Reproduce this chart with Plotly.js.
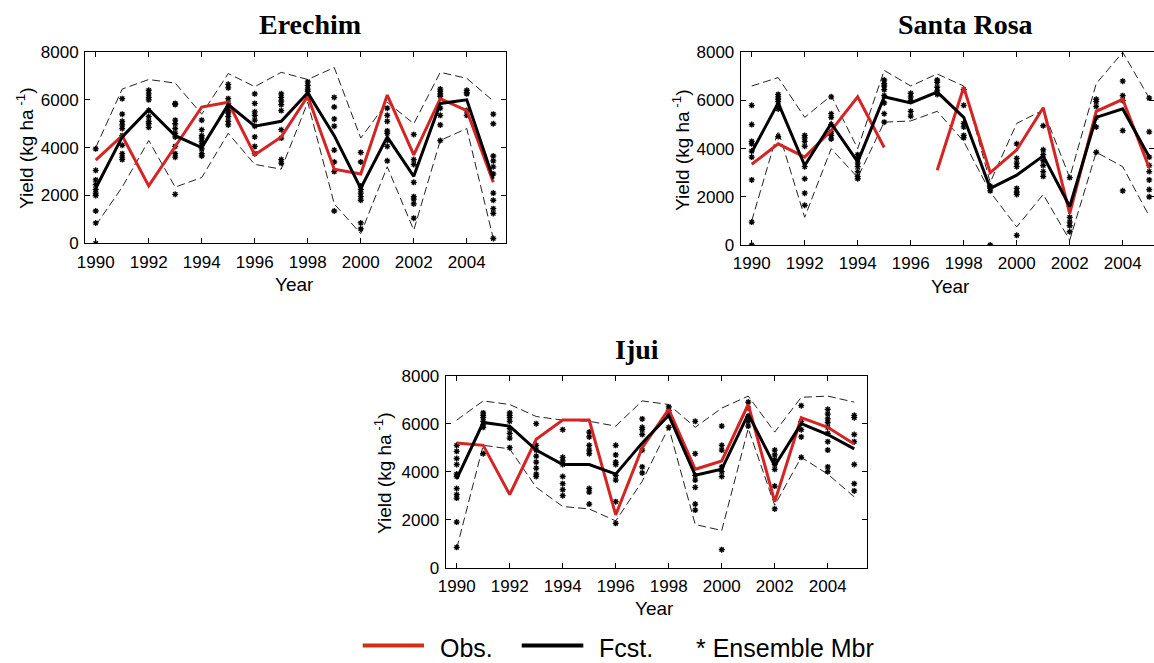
<!DOCTYPE html>
<html>
<head>
<meta charset="utf-8">
<script src="https://cdn.plot.ly/plotly-3.0.1.min.js"></script>
<style>html,body{margin:0;padding:0;background:#fff;}#chart{width:1154px;height:663px;}</style>
</head>
<body>
<div id="chart"></div>
<script>
const years = [1990,1991,1992,1993,1994,1995,1996,1997,1998,1999,2000,2001,2002,2003,2004,2005];
const stations = ["Erechim", "Santa Rosa", "Ijui"];
const legendLabels = ["Obs.", "Fcst.", "* Ensemble Mbr"];
const yTitle = "Yield (kg ha<sup> -1</sup>)";
const xTitle = "Year";

// Erechim
const obsErechim   = [3480,4500,2400,4050,5700,5900,3700,4450,6150,3100,2900,6200,3700,6050,5550,2550];
const fcstErechim  = [2300,4450,5600,4500,4000,5800,4900,5100,6300,4500,2300,4450,2800,5850,6000,2700];
const upperErechim = [4000,6450,6850,6700,5400,7100,6550,7150,6850,7350,4400,5900,5000,7150,6900,5950];
const lowerErechim = [750,2350,4300,2350,2750,4600,3300,3100,5900,1650,400,3200,550,4300,4800,200];
const mbrErechim = [
  [3950,3050,2650,2450,2250,2100,2000,1350,850,0],
  [6050,5400,5100,4950,4800,4500,4100,3750,3600,3500],
  [6400,6250,6100,6000,5550,5300,5100,5000,4850],
  [5850,5800,5150,5000,4800,4600,4450,4050,3750,3600,2050],
  [5150,4750,4500,4400,4250,4100,3950,3750,3650],
  [6650,6500,6050,5850,5700,5550,5450,5300,5100,4950],
  [6250,5850,5500,5350,5150,4900,4450,4050,3750],
  [6250,6100,5950,5800,5550,4750,4400,3500,3350],
  [6750,6600,6450,6350,6200,6100],
  [6100,5700,5200,4900,3900,3400,3000,1350],
  [3800,3400,2400,2250,2100,1950,1800,850,600],
  [5650,5350,5100,4700,4600,4300,4050,3450],
  [4550,3500,3300,2550,1950,1850,1650,1050],
  [6450,6350,6250,6150,5650,5350,4950,4300],
  [6400,6300,6250,5550,5350],
  [5400,5000,3650,3450,3200,2900,2100,1800,1450,1250,200]
];

// Santa Rosa
const obsSantaRosa   = [3350,4200,3650,4750,6150,4050,null,3100,6550,3000,3950,5700,1300,5550,6050,3200];
const fcstSantaRosa  = [3850,5900,3300,5050,3450,6150,5900,6350,5300,2350,2900,3700,1600,5300,5650,3650];
const upperSantaRosa = [6600,6950,5300,6200,4000,7250,6600,7100,6600,2600,5050,5600,2800,6700,8000,6100];
const lowerSantaRosa = [1000,4750,1150,4000,2800,5100,5150,5550,4300,2200,750,2100,200,3850,3250,1200];
const mbrSantaRosa = [
  [5800,5000,4300,4200,3900,3650,2700,950,0],
  [6250,6150,6050,5950,5750,5650,4500],
  [4550,4450,4300,4100,3250,2750,2150,1650],
  [6150,5450,5300,5000,4700,4550,4400],
  [3750,3600,3400,3250,3050,2850,2750],
  [6850,6700,6600,6450,6200,5900,5450,5100],
  [6300,6150,6000,5550,5350],
  [6850,6750,6550,6400,6250],
  [6450,5800,5050,4900,4550,4450],
  [2450,2350,2250,0],
  [4200,3600,3400,3250,2350,2200,2100,400],
  [4950,3950,3750,3500,3300,3050,2850],
  [2800,1150,950,800,550],
  [6050,5950,5750,5300,4900,3850],
  [6800,6200,6000,4750,2250],
  [6100,4700,3650,3300,3050,2700,2300,2000]
];

// Ijui
const obsIjui   = [5200,5100,3050,5350,6150,6150,2200,5000,6600,4100,4450,6800,2750,6250,5850,5150];
const fcstIjui  = [3700,6050,5900,4900,4300,4300,3900,5200,6350,3850,4100,6400,4250,6000,5550,4950];
const upperIjui = [6150,6950,6800,6300,6150,6100,5900,6950,6800,5850,6650,7150,5650,7100,7150,6900];
const lowerIjui = [800,5100,4950,3350,2550,2450,1950,3600,5850,1800,1550,5800,2600,4600,3900,2950];
const mbrIjui = [
  [5100,4850,4550,4300,3900,3800,3300,3050,2900,1900,850],
  [6450,6350,6250,6100,5950,5850,4750],
  [6450,6350,6250,6100,5800,5600,5400,5000],
  [6000,5100,4900,4650,4400,4150,3900,3800],
  [5750,4600,4450,4300,3800,3500,3250,3000],
  [5650,5450,5100,4900,4750,3300,3150,2650],
  [5100,4700,4400,4300,3850,3650,2750,1850],
  [6200,5850,5750,5550,4900,4200,3950],
  [6700,6550,6450,6350,5850],
  [6100,4750,3850,3650,3350,2650,2400],
  [5900,5100,4900,4200,4000,3800,750],
  [6900,6650,6300,6100,5900],
  [4900,4700,4500,4300,4100,3400,2450],
  [6750,6100,5750,5450,4600],
  [6600,6400,6200,6050,5850,5600,5250,4900,4200,4000],
  [6350,6250,5550,5250,4300,3500,3200]
];

const W = 1154, H = 663;
const RED = '#d42424';
const sans = 'Liberation Sans, Arial, sans-serif';
const serif = 'Liberation Serif, Times New Roman, serif';

const panels = [
  {obs: obsErechim, fcst: fcstErechim, up: upperErechim, lo: lowerErechim, mbr: mbrErechim,
   xpx: [85, 506], ypx: [52, 243.3], xr: [1989.596, 2005.48],
   title: [310, 25], ytl: [25, 148], xtl: [294, 284]},
  {obs: obsSantaRosa, fcst: fcstSantaRosa, up: upperSantaRosa, lo: lowerSantaRosa, mbr: mbrSantaRosa,
   xpx: [740.7, 1154], ypx: [52.3, 245], xr: [1989.585, 2005.18],
   title: [965, 25], ytl: [681, 150], xtl: [950, 286]},
  {obs: obsIjui, fcst: fcstIjui, up: upperIjui, lo: lowerIjui, mbr: mbrIjui,
   xpx: [445.7, 866.7], ypx: [375.7, 567.7], xr: [1989.585, 2005.47],
   title: [637, 349], ytl: [383, 473], xtl: [654, 608]}
];

const data = [];
const layout = {
  width: W, height: H,
  margin: {l: 0, r: 0, t: 0, b: 0},
  paper_bgcolor: '#fff', plot_bgcolor: '#fff',
  showlegend: false,
  font: {family: sans, color: '#000', size: 17},
  annotations: [], shapes: []
};

panels.forEach((p, i) => {
  const n = i === 0 ? '' : String(i + 1);
  const xa = 'x' + n, ya = 'y' + n;
  [p.up, p.lo].forEach(v => data.push({
    type: 'scatter', mode: 'lines', x: years, y: v, xaxis: xa, yaxis: ya,
    line: {color: '#222', width: 1, dash: '8px,4px'}, hoverinfo: 'skip'
  }));
  const mx = [], my = [];
  p.mbr.forEach((arr, k) => arr.forEach(v => { mx.push(years[k]); my.push(v); }));
  data.push({
    type: 'scatter', mode: 'markers', x: mx, y: my, xaxis: xa, yaxis: ya,
    marker: {symbol: 'asterisk-open', size: 5, color: '#000', line: {color: '#000', width: 1.3}}
  });
  data.push({
    type: 'scatter', mode: 'lines', x: years, y: p.obs, xaxis: xa, yaxis: ya,
    connectgaps: false, line: {color: RED, width: 3}
  });
  data.push({
    type: 'scatter', mode: 'lines', x: years, y: p.fcst, xaxis: xa, yaxis: ya,
    line: {color: '#000', width: 3}
  });

  const common = {
    showline: true, linecolor: '#000', linewidth: 1, mirror: 'ticks',
    ticks: 'inside', ticklen: 5, tickcolor: '#000', tickwidth: 1,
    showgrid: false, zeroline: false, fixedrange: true,
    tickfont: {family: sans, size: 17, color: '#000'}
  };
  layout['xaxis' + n] = Object.assign({}, common, {
    domain: [p.xpx[0] / W, p.xpx[1] / W], range: p.xr, anchor: ya,
    tick0: 1990, dtick: 2, ticklabelstandoff: 3
  });
  layout['yaxis' + n] = Object.assign({}, common, {
    domain: [1 - p.ypx[1] / H, 1 - p.ypx[0] / H], range: [0, 8000], anchor: xa,
    tick0: 0, dtick: 2000, ticklabelstandoff: 2
  });

  layout.annotations.push({
    xref: 'paper', yref: 'paper', x: p.title[0] / W, y: 1 - p.title[1] / H,
    xanchor: 'center', yanchor: 'middle', showarrow: false, text: stations[i],
    font: {family: serif, size: 28, color: '#000', weight: 'bold'}
  });
  layout.annotations.push({
    xref: 'paper', yref: 'paper', x: p.ytl[0] / W, y: 1 - p.ytl[1] / H,
    xanchor: 'center', yanchor: 'middle', showarrow: false, text: yTitle, textangle: -90,
    font: {family: sans, size: 19, color: '#000'}
  });
  layout.annotations.push({
    xref: 'paper', yref: 'paper', x: p.xtl[0] / W, y: 1 - p.xtl[1] / H,
    xanchor: 'center', yanchor: 'middle', showarrow: false, text: xTitle,
    font: {family: sans, size: 19, color: '#000'}
  });
});

// legend (decoration)
const legY = 1 - 645.5 / H;
layout.shapes.push({type: 'line', xref: 'paper', yref: 'paper', x0: 362.7 / W, x1: 424 / W, y0: legY, y1: legY,
  line: {color: '#cc3311', width: 4}});
layout.shapes.push({type: 'line', xref: 'paper', yref: 'paper', x0: 521.7 / W, x1: 583.3 / W, y0: legY, y1: legY,
  line: {color: '#000', width: 4}});
[[439, legendLabels[0]], [598, legendLabels[1]], [695, legendLabels[2]]].forEach(([x, t]) => {
  layout.annotations.push({
    xref: 'paper', yref: 'paper', x: x / W, y: 0, xanchor: 'left', yanchor: 'bottom',
    showarrow: false, text: t, borderpad: 0, font: {family: sans, size: 25, color: '#000'}
  });
});

Plotly.newPlot('chart', data, layout, {staticPlot: true, displayModeBar: false});
</script>
</body>
</html>
